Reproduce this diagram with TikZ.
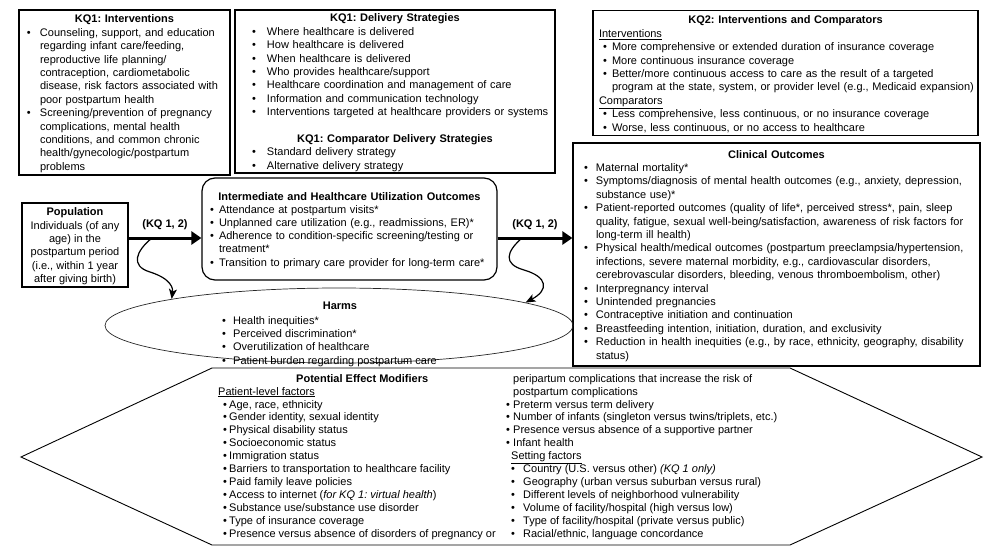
\documentclass[tikz,border=0pt]{standalone}
\usepackage{fontspec}
\setmainfont{Liberation Sans}
\usetikzlibrary{arrows.meta,shapes.geometric}
\frenchspacing
\newlength\xbo \newlength\xbw \newlength\xso
\newcommand\boxfont{\fontsize{11}{13.4}\selectfont}
\newcommand\midfont{\fontsize{11}{13.2}\selectfont}
\newcommand\hexfont{\fontsize{11}{12.9}\selectfont}
\newcommand\xbul[1]{\hspace*{\xbo}\makebox[\xbw][l]{\textbullet}#1}
\newcommand\xcont[1]{\hspace*{\dimexpr\xbo+\xbw\relax}#1}
\newcommand\xhead[1]{\makebox[\hsize][c]{\rule{0pt}{10.5pt}\bfseries #1}}
\newcommand\xsub[1]{\hspace*{\xso}\underline{#1}}
\newcommand\hl[1]{\makebox[288pt][l]{#1}}
\newcommand\hlb[1]{\makebox[288pt][l]{\hspace*{5pt}\makebox[6pt][l]{\textbullet}#1}}
\newcommand\hrb[1]{\makebox[7pt][l]{\textbullet}#1}
\newcommand\hrs[1]{\hspace*{5pt}\makebox[12pt][l]{\textbullet}#1}
\begin{document}
\begin{tikzpicture}[x=1pt,y=-1pt,
  bx/.style n args={3}{draw, line width=1.2pt, inner sep=0pt, align=left,
    font=\boxfont\setlength\xbo{#1}\setlength\xbw{#2}\setlength\xso{#3}},
  thickarrow/.style={line width=3pt, -{Triangle[length=10pt,width=13pt]}},
  wavy/.style={line width=1.2pt, -{Stealth[length=10pt,width=8pt,inset=2.5pt]}},
  kqlabel/.style={font=\fontsize{11}{13}\selectfont\bfseries, inner sep=1pt}]
\useasboundingbox (0,0) rectangle (996,551);

% KQ1 Interventions
\node[bx={8pt}{13pt}{0pt}, text width=211pt, minimum height=165pt] (kqi) at (124.5,92.5) {%
\xhead{KQ1: Interventions}\\
\xbul{Counseling, support, and education}\\
\xcont{regarding infant care/feeding,}\\
\xcont{reproductive life planning/}\\
\xcont{contraception, cardiometabolic}\\
\xcont{disease, risk factors associated with}\\
\xcont{poor postpartum health}\\
\xbul{Screening/prevention of pregnancy}\\
\xcont{complications, mental health}\\
\xcont{conditions, and common chronic}\\
\xcont{health/gynecologic/postpartum}\\
\xcont{problems}};

% KQ1 Delivery strategies
\node[bx={17pt}{15pt}{0pt}, text width=320pt, minimum height=163pt] (kqd) at (395,91.5) {%
\xhead{KQ1: Delivery Strategies}\\
\xbul{Where healthcare is delivered}\\
\xbul{How healthcare is delivered}\\
\xbul{When healthcare is delivered}\\
\xbul{Who provides healthcare/support}\\
\xbul{Healthcare coordination and management of care}\\
\xbul{Information and communication technology}\\
\xbul{Interventions targeted at healthcare providers or systems}\\
\mbox{}\\
\xhead{KQ1: Comparator Delivery Strategies}\\
\xbul{Standard delivery strategy}\\
\xbul{Alternative delivery strategy}};

% KQ2
\node[bx={10pt}{9pt}{6pt}, text width=385pt, minimum height=125pt] (kq2) at (785.5,73) {%
\xhead{KQ2: Interventions and Comparators}\\
\xsub{Interventions}\\
\xbul{More comprehensive or extended duration of insurance coverage}\\
\xbul{More continuous insurance coverage}\\
\xbul{Better/more continuous access to care as the result of a targeted}\\
\xcont{program at the state, system, or provider level (e.g., Medicaid expansion)}\\
\xsub{Comparators}\\
\xbul{Less comprehensive, less continuous, or no insurance coverage}\\
\xbul{Worse, less continuous, or no access to healthcare}};

% Clinical outcomes
\node[bx={11pt}{12pt}{0pt}, text width=407pt, minimum height=223pt] (clin) at (776.5,254.5) {%
\xhead{Clinical Outcomes}\\
\xbul{Maternal mortality*}\\
\xbul{Symptoms/diagnosis of mental health outcomes (e.g., anxiety, depression,}\\
\xcont{substance use)*}\\
\xbul{Patient-reported outcomes (quality of life*, perceived stress*, pain, sleep}\\
\xcont{quality, fatigue, sexual well-being/satisfaction, awareness of risk factors for}\\
\xcont{long-term ill health)}\\
\xbul{Physical health/medical outcomes (postpartum preeclampsia/hypertension,}\\
\xcont{infections, severe maternal morbidity, e.g., cardiovascular disorders,}\\
\xcont{cerebrovascular disorders, bleeding, venous thromboembolism, other)}\\
\xbul{Interpregnancy interval}\\
\xbul{Unintended pregnancies}\\
\xbul{Contraceptive initiation and continuation}\\
\xbul{Breastfeeding intention, initiation, duration, and exclusivity}\\
\xbul{Reduction in health inequities (e.g., by race, ethnicity, geography, disability}\\
\xcont{status)}};

% Population
\node[draw, line width=1.2pt, inner sep=0pt, align=center, font=\boxfont,
  minimum width=106pt, minimum height=84pt] (pop) at (75,245) {%
\rule{0pt}{10.5pt}\textbf{Population}\\
Individuals (of any\\
age) in the\\
postpartum period\\
(i.e., within 1 year\\
after giving birth)};

% Intermediate outcomes
\node[draw, line width=1.2pt, rounded corners=13pt, inner sep=0pt, align=left,
  font=\midfont\setlength\xbo{8pt}\setlength\xbw{9pt},
  text width=295pt, minimum height=102pt] (inter) at (349.5,229) {%
\xhead{Intermediate and Healthcare Utilization Outcomes}\\
\xbul{Attendance at postpartum visits*}\\
\xbul{Unplanned care utilization (e.g., readmissions, ER)*}\\
\xbul{Adherence to condition-specific screening/testing or}\\
\xcont{treatment*}\\
\xbul{Transition to primary care provider for long-term care*}};

% Harms
\node[draw=black!85, line width=0.7pt, ellipse, inner sep=0pt,
  minimum width=468pt, minimum height=75pt] (harms) at (339,325.5) {};
\node[font=\fontsize{11}{13}\selectfont\bfseries, inner sep=0pt] (harmstitle) at (340,306) {Harms};
\node[anchor=north west, inner sep=0pt, align=left,
  font=\fontsize{11}{13.3}\selectfont\setlength\xbo{0pt}\setlength\xbw{11pt}] (harmstext) at (222,314.7) {%
\strut\xbul{Health inequities*}\\
\xbul{Perceived discrimination*}\\
\xbul{Overutilization of healthcare}\\
\xbul{Patient burden regarding postpartum care}};

% Effect modifiers hexagon
\coordinate (h1) at (212,368);
\coordinate (h2) at (790,368);
\coordinate (h3) at (982,457);
\coordinate (h4) at (790,545);
\coordinate (h5) at (212,545);
\coordinate (h6) at (21,457);
\draw[line width=0.9pt] (h1) -- (h2) -- (h3) -- (h4) -- (h5) -- (h6) -- cycle;
\node[anchor=north west, inner sep=0pt, font=\hexfont] (mods) at (218,373) {%
\begin{tabular}{@{}l@{}l@{}}
\makebox[288pt][c]{\bfseries Potential Effect Modifiers} & \hspace*{7pt}peripartum complications that increase the risk of\\
\hl{\underline{Patient-level factors}} & \hspace*{7pt}postpartum complications\\
\hlb{Age, race, ethnicity} & \hrb{Preterm versus term delivery}\\
\hlb{Gender identity, sexual identity} & \hrb{Number of infants (singleton versus twins/triplets, etc.)}\\
\hlb{Physical disability status} & \hrb{Presence versus absence of a supportive partner}\\
\hlb{Socioeconomic status} & \hrb{Infant health}\\
\hlb{Immigration status} & \hspace*{5pt}\underline{Setting factors}\\
\hlb{Barriers to transportation to healthcare facility} & \hrs{Country (U.S. versus other) \textit{(KQ 1 only)}}\\
\hlb{Paid family leave policies} & \hrs{Geography (urban versus suburban versus rural)}\\
\hlb{Access to internet (\textit{for KQ 1: virtual health})} & \hrs{Different levels of neighborhood vulnerability}\\
\hlb{Substance use/substance use disorder} & \hrs{Volume of facility/hospital (high versus low)}\\
\hlb{Type of insurance coverage} & \hrs{Type of facility/hospital (private versus public)}\\
\hlb{Presence versus absence of disorders of pregnancy or} & \hrs{Racial/ethnic, language concordance}
\end{tabular}};

% Arrows
\coordinate (ay) at (0,238);
\draw[thickarrow] (pop.east |- ay) -- node[kqlabel, above=6pt] (lab1) {(KQ 1, 2)} (inter.west |- ay);
\draw[thickarrow] (inter.east |- ay) -- node[kqlabel, above=6pt] (lab2) {(KQ 1, 2)} (clin.west |- ay);

% Wavy connectors to harms
\coordinate (w1s) at (152,238);
\coordinate (w2s) at (522,238);
\draw[wavy] (w1s) .. controls (136,251) and (130,266) .. (150,272)
  .. controls (172,279) and (173,289) .. (harms.171);
\draw[wavy] (w2s) .. controls (506,252) and (503,264) .. (524,270)
  .. controls (548,277) and (549,290) .. (harms.7);
\end{tikzpicture}
\end{document}
